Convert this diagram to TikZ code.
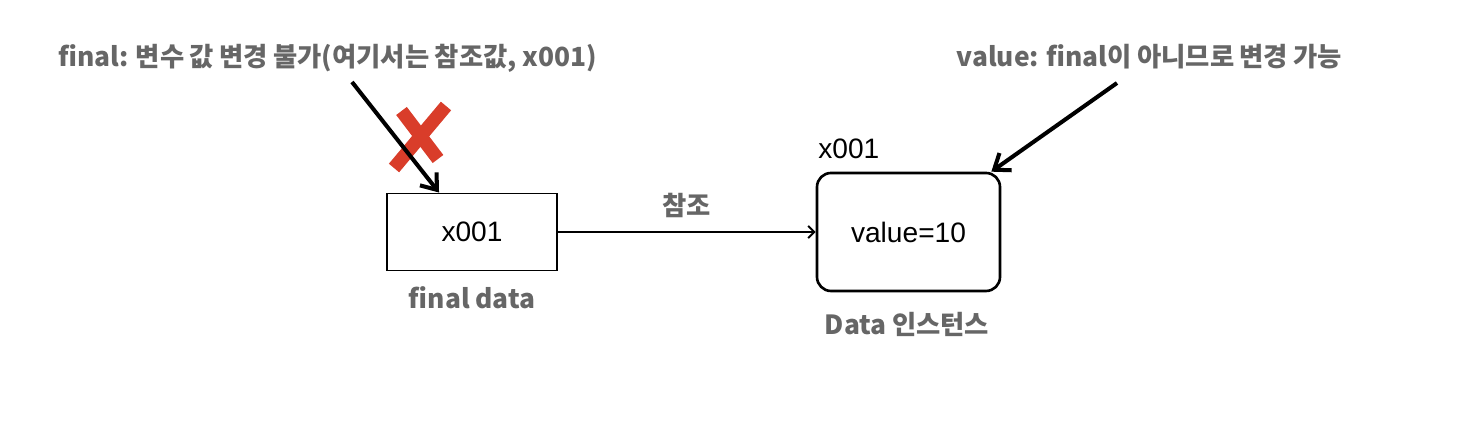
\documentclass[tikz,border=0pt]{standalone}
\usepackage{fontspec}
\setmainfont[WordSpace=0.9]{Noto Sans CJK KR}
\newfontfamily\latinfont{Liberation Sans}
\usetikzlibrary{arrows.meta}
\definecolor{notegray}{HTML}{666666}
\definecolor{crossred}{HTML}{D93D2A}
\begin{document}
\begin{tikzpicture}[>={Straight Barb[length=8pt,width=12pt]},
    note/.style={text=notegray, font=\bfseries\fontsize{15}{18}\selectfont},
    plain/.style={font=\latinfont\fontsize{16}{19}\selectfont}]
\useasboundingbox (0,0) rectangle (29.56,8.64);
% variable and instance
\node[draw, line width=1.1pt, minimum width=3.4cm, minimum height=1.54cm, plain] (ref) at (9.44,4.0) {x001};
\node[draw, line width=1.5pt, rounded corners=0.28cm, minimum width=3.66cm, minimum height=2.36cm, plain] (inst) at (18.17,4.0) {value=10};
\node[plain, anchor=west, inner sep=0pt] (addr) at (16.36,5.66) {x001};
\node[note] (refname) at (9.44,2.68) {final data};
\node[note] (instname) at (18.14,2.16) {Data 인스턴스};
\draw[line width=1.1pt, -{Straight Barb[length=3.5pt,width=7pt]}] (ref) -- node[note, above=0.15cm]{참조} (inst);
% notes
\node[note] (refnote) at (6.55,7.48) {final: 변수 값 변경 불가(여기서는 참조값, x001)};
\node[note] (valnote) at (22.99,7.5) {value: final이 아니므로 변경 가능};
\coordinate (refnote-tail) at (7.04,7.0);
\coordinate (valnote-tail) at (22.34,6.98);
\draw[crossred, line width=7.6pt] (8.92,6.52)--(7.88,5.28);
\draw[crossred, line width=7.6pt] (8.03,6.42)--(8.76,5.46);
\draw[->, line width=2.3pt] (refnote-tail) -- ([xshift=1.06cm]ref.north west);
\draw[->, line width=2.3pt] (valnote-tail) -- ([xshift=-0.2cm]inst.north east);
\end{tikzpicture}
\end{document}
